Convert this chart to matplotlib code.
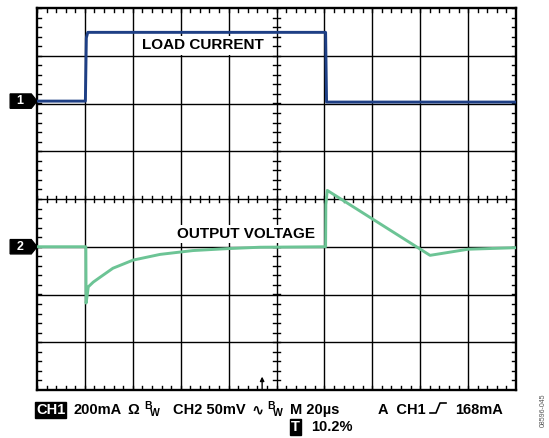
import matplotlib.pyplot as plt
import numpy as np
from matplotlib.patches import Polygon

# scope settings
us_per_div = 20.0
ma_per_div = 200.0
mv_per_div = 50.0
ch1_ground = 2.05    # divisions from centre
ch2_ground = -1.0

# CH1: load current (mA above ground), time in us
t_cur = [0, 20.2, 20.6, 21.2, 120.5, 120.9, 200]
i_cur = [0, 0, 265, 288, 288, -4, -4]

# CH2: output voltage deviation (mV), time in us
t_out = [0, 20.4, 20.5, 21.0, 21.4, 23.5, 26.3, 31.7, 40.1, 51.4, 65.1,
         79.3, 93.1, 120.5, 120.6, 121.2, 164.1, 180.0, 200]
v_out = [0, 0, -59, -50, -42, -37, -32, -22.5, -14, -8, -4,
         -2, -0.5, 0, 44, 59, -9, -2.6, -1]

blue = "#1e3f85"
green = "#6cc495"

plt.rcParams['font.family'] = ['Liberation Sans', 'DejaVu Sans']

W, H = 549, 438
fig = plt.figure(figsize=(W / 100, H / 100), dpi=100)
L, R, T, B = 37, 516, 8, 390
ax = fig.add_axes([L / W, 1 - B / H, (R - L) / W, (B - T) / H])
ax.set_xlim(0, 10)
ax.set_ylim(-4, 4)
ax.set_xticks([])
ax.set_yticks([])
for s in ax.spines.values():
    s.set_linewidth(1.7)

# grid
for x in range(1, 10):
    ax.axvline(x, color="black", lw=1.0, zorder=1)
for y in range(-3, 4):
    ax.axhline(y, color="black", lw=1.0, zorder=1)

# minor ticks on border and centre lines
tk = 0.09
for x in np.arange(0, 10.01, 0.2):
    ax.plot([x, x], [-4, -4 + tk], color="black", lw=1.0)
    ax.plot([x, x], [4, 4 - tk], color="black", lw=1.0)
    ax.plot([x, x], [-tk * 0.8, tk * 0.8], color="black", lw=1.0)
for y in np.arange(-4, 4.01, 0.2):
    ax.plot([0, tk], [y, y], color="black", lw=1.0)
    ax.plot([10, 10 - tk], [y, y], color="black", lw=1.0)
    ax.plot([5 - tk * 0.8, 5 + tk * 0.8], [y, y], color="black", lw=1.0)

# trigger position marker on bottom border
ax.annotate("", xy=(4.7, -3.72), xytext=(4.7, -4.0),
            arrowprops=dict(arrowstyle="-|>", color="black", lw=1.0,
                            mutation_scale=6, shrinkA=0, shrinkB=0))

# traces
tc = np.array(t_cur) / us_per_div
ax.plot(tc, ch1_ground + np.array(i_cur) / ma_per_div, color=blue, lw=2.1, zorder=3)
to = np.array(t_out) / us_per_div
ax.plot(to, ch2_ground + np.array(v_out) / mv_per_div, color=green, lw=2.1, zorder=3)

box = dict(boxstyle="square,pad=0.15", fc="white", ec="none")
ax.text(3.47, 3.22, "LOAD CURRENT", fontsize=11, fontweight="bold", ha="center",
        va="center", zorder=4, bbox=box)
ax.text(4.36, -0.73, "OUTPUT VOLTAGE", fontsize=11, fontweight="bold", ha="center",
        va="center", zorder=4, bbox=box)

# channel markers
for y, lab in [(ch1_ground, "1"), (ch2_ground, "2")]:
    ax.add_patch(Polygon([(-0.56, y + 0.15), (-0.12, y + 0.15), (0, y),
                          (-0.12, y - 0.15), (-0.56, y - 0.15)],
                         closed=True, color="black", clip_on=False))
    ax.text(-0.36, y, lab, color="white", fontsize=9, fontweight="bold",
            ha="center", va="center", clip_on=False)


def ftext(x, y, s, **kw):
    kw.setdefault("fontsize", 10.5)
    kw.setdefault("fontweight", "bold")
    fig.text(x / W, 1 - y / H, s, va="baseline", ha="left", **kw)


by = 414
ftext(36, by, "CH1", color="white",
      bbox=dict(boxstyle="square,pad=0.05", fc="black", ec="black"))
ftext(74, by, "200mA")
ftext(127, by, "Ω")
ftext(144, by - 5, "B", fontsize=7.5)
ftext(150, by + 2, "W", fontsize=7.5)
ftext(173, by, "CH2 50mV")
ftext(251, by, "∿", family=["DejaVu Sans"])
ftext(267, by - 5, "B", fontsize=7.5)
ftext(273, by + 2, "W", fontsize=7.5)
ftext(290, by, "M 20µs")
ftext(378, by, "A  CH1")
ftext(455, by, "168mA")
# trigger slope symbol
fig.add_artist(plt.Line2D(np.array([430, 436, 440, 446]) / W,
                          1 - np.array([413, 413, 403, 403]) / H,
                          color="black", lw=1.2))
ftext(291, 431, "T", color="white",
      bbox=dict(boxstyle="square,pad=0.1", fc="black", ec="black"))
ftext(311, 431, "10.2%")
fig.text(543 / W, 1 - 410 / H, "08596-045", rotation=90, fontsize=5,
         color="#555555", ha="center", va="center")

fig.savefig("out.png", dpi=100)
